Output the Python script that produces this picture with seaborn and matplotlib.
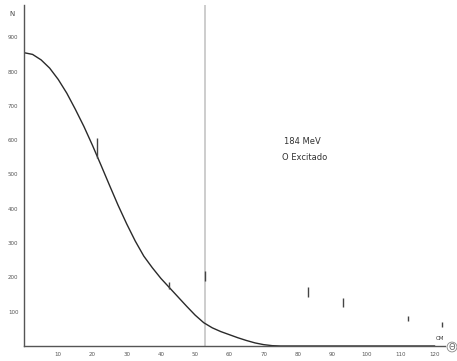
import matplotlib
matplotlib.use("Agg")
import matplotlib.pyplot as plt
import seaborn as sns
import pandas as pd

# Fitted angular distribution (smooth curve), N versus theta_CM in degrees
theta_fit = [0, 2.5, 5, 7.5, 10, 12.5, 15, 17.5, 20, 22.5, 25, 27.5, 30, 32.5, 35,
             37.5, 40, 42.5, 45, 47.5, 50, 52.5, 55, 57.5, 60, 62.5, 65, 67.5, 70,
             72.5, 75, 80, 90, 100, 110, 120]
n_fit = [855, 850, 834, 810, 777, 737, 690, 640, 585, 527, 468, 410, 356, 306, 262,
         228, 197, 170, 143, 116, 90, 68, 53, 42, 33, 24, 16, 9, 4,
         1, 0, 0, 0, 0, 0, 0]

# Measured points, shown as bare error bars (low / high)
theta_pts = [21.3, 42.4, 53.0, 83.0, 93.3, 112.3, 122.0]
n_low = [549, 166, 189, 142, 113, 73, 55]
n_high = [607, 186, 218, 172, 140, 87, 70]

x_ticks = [10, 20, 30, 40, 50, 60, 70, 80, 90, 100, 110, 120]
y_ticks = [100, 200, 300, 400, 500, 600, 700, 800, 900]

energy_label = "184 MeV"
state_label = "O Excitado"

sns.set_style("white")
plt.rcParams["font.family"] = ["DejaVu Sans"]

fig = plt.figure(figsize=(4.57, 3.61), dpi=100)
ax = fig.add_axes([24 / 457, 15 / 361, (445 - 24) / 457, (346 - 5) / 361])

df = pd.DataFrame({"theta": theta_fit, "N": n_fit})
sns.lineplot(data=df, x="theta", y="N", ax=ax, color="#2a2a2a", linewidth=1.0)

# dividing line across the plot
ax.axvline(53.0, color="#c9c9c9", linewidth=1.3, zorder=0)

ax.vlines(theta_pts, n_low, n_high, color="#444444", linewidth=1.0)

ax.set_xlim(0, 123)
ax.set_ylim(0, 994)
ax.set_xticks(x_ticks)
ax.set_yticks(y_ticks)
ax.set_xticklabels([str(v) for v in x_ticks], fontsize=4, color="#555555")
ax.set_yticklabels([str(v) for v in y_ticks], fontsize=4, color="#555555")
ax.tick_params(axis="both", direction="inout", length=5, width=0.8, color="#444444", pad=1.5)
ax.set_xlabel("")
ax.set_ylabel("")

for side in ("top", "right"):
    ax.spines[side].set_visible(False)
for side in ("left", "bottom"):
    ax.spines[side].set_color("#555555")
    ax.spines[side].set_linewidth(1.0)

fig.text(12 / 457, 1 - 14 / 361, "N", fontsize=5, color="#444444", ha="center", va="center")
fig.text(302 / 457, 1 - 141 / 361, energy_label, fontsize=6, color="#333333", ha="center", va="center")
fig.text(305 / 457, 1 - 157 / 361, state_label, fontsize=6, color="#333333", ha="center", va="center")
fig.text(440 / 457, 1 - 338 / 361, "CM", fontsize=4, color="#333333", ha="center", va="center")
fig.text(452 / 457, 1 - 347 / 361, "Θ", fontsize=6, color="#666666", ha="center", va="center",
         bbox=dict(boxstyle="circle,pad=0.05", facecolor="none", edgecolor="#888888", linewidth=0.6))

fig.savefig("out.png", dpi=100, facecolor="white")
